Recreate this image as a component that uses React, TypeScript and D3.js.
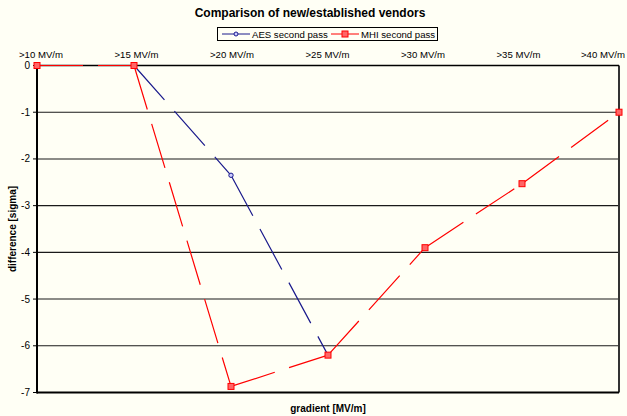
import React from "react";
import * as d3 from "d3";

const categories = [">10 MV/m", ">15 MV/m", ">20 MV/m", ">25 MV/m", ">30 MV/m", ">35 MV/m", ">40 MV/m"];
const aesValues: (number | null)[] = [0, 0, -2.35, -6.2, null, null, null];
const mhiValues: (number | null)[] = [0, 0, -6.87, -6.2, -3.9, -2.53, -1.0];
const yTicks = [0, -1, -2, -3, -4, -5, -6, -7];
const seriesNames = ["AES second pass", "MHI second pass"];

const W = 627, H = 416;
const BG = "#FFFFF5";
const FONT = "Arial, 'Liberation Sans', sans-serif";

export default function App() {
  const x = d3.scalePoint<string>().domain(categories).range([37, 619]);
  const xLabel = d3.scalePoint<string>().domain(categories).range([41, 614]);
  const y = d3.scaleLinear().domain([-7, 0]).range([392.5, 65.5]);

  const segs = (vals: (number | null)[]) => {
    const out: { x1: number; y1: number; x2: number; y2: number }[] = [];
    for (let i = 0; i < vals.length - 1; i++) {
      const a = vals[i], b = vals[i + 1];
      if (a == null || b == null) continue;
      out.push({ x1: x(categories[i])!, y1: y(a), x2: x(categories[i + 1])!, y2: y(b) });
    }
    return out;
  };

  const aesSegs = segs(aesValues);
  const mhiSegs = segs(mhiValues);
  const blue = "#1a1a8c";
  const red = "#ff0000";
  const dash = "46,15";

  return (
    <svg width={W} height={H} style={{ position: "absolute", left: 0, top: 0, background: BG }}>
      <rect x={0} y={0} width={W} height={H} fill={BG} />
      {/* title */}
      <text x={310} y={17} textAnchor="middle" fontFamily={FONT} fontWeight="bold" fontSize={12} fill="#000">
        Comparison of new/established vendors
      </text>
      {/* legend */}
      <rect x={217.5} y={27.5} width={220} height={13} fill={BG} stroke="#000" strokeWidth={1} />
      <line x1={222} x2={250} y1={34} y2={34} stroke={blue} strokeWidth={1} />
      <circle cx={236} cy={34} r={2} fill="#ccccff" stroke={blue} strokeWidth={1} />
      <text x={252} y={37.5} fontFamily={FONT} fontSize={9.6} fill="#000">{seriesNames[0]}</text>
      <line x1={331} x2={359} y1={34} y2={34} stroke={red} strokeWidth={1} />
      <rect x={342} y={31} width={6} height={6} fill="#ff6666" stroke={red} strokeWidth={1} />
      <text x={361} y={37.5} fontFamily={FONT} fontSize={9.6} fill="#000">{seriesNames[1]}</text>

      {/* gridlines */}
      {yTicks.filter(t => t !== 0 && t !== -7).map(t => (
        <line key={t} x1={37} x2={619} y1={y(t)} y2={y(t)} stroke="#1a1a1a" strokeWidth={1.1} />
      ))}
      {/* plot border */}
      <line x1={619} x2={619} y1={y(0)} y2={y(-7)} stroke="#333" strokeWidth={2} />
      <line x1={37} x2={619} y1={y(-7)} y2={y(-7)} stroke="#000" strokeWidth={2} />
      <line x1={37} x2={619} y1={y(0)} y2={y(0)} stroke="#000" strokeWidth={1.5} />
      <line x1={37} x2={37} y1={y(0)} y2={y(-7) + 1} stroke="#000" strokeWidth={2} />
      {/* y ticks */}
      {yTicks.map(t => (
        <g key={t}>
          <line x1={33} x2={37} y1={y(t)} y2={y(t)} stroke="#000" strokeWidth={1} />
          <text x={30} y={y(t) + 3.5} textAnchor="end" fontFamily={FONT} fontSize={10} fill="#000">{t}</text>
        </g>
      ))}
      {/* category labels on top */}
      {categories.map((c, i) => {
        const last = i === categories.length - 1;
        return (
          <text key={c} x={last ? 625 : xLabel(c)!} y={58} textAnchor={last ? "end" : "middle"} fontFamily={FONT} fontSize={9.6} fill="#000">{c}</text>
        );
      })}
      {/* axis titles */}
      <text x={328} y={412} textAnchor="middle" fontFamily={FONT} fontWeight="bold" fontSize={10} fill="#000">gradient [MV/m]</text>
      <text transform={`translate(16,${(y(0) + y(-7)) / 2}) rotate(-90)`} textAnchor="middle" fontFamily={FONT} fontWeight="bold" fontSize={10} fill="#000">difference [sigma]</text>

      {/* AES series */}
      {aesSegs.map((s, i) => (
        <line key={"a" + i} {...s} stroke={blue} strokeWidth={1.2} strokeDasharray={dash} />
      ))}
      {aesValues.map((v, i) => v == null ? null : (
        <circle key={"ac" + i} cx={x(categories[i])!} cy={y(v)} r={2.2} fill="#ccccff" stroke={blue} strokeWidth={1} />
      ))}
      {/* MHI series */}
      {mhiSegs.map((s, i) => (
        <line key={"m" + i} {...s} stroke={red} strokeWidth={1.2} strokeDasharray={dash} />
      ))}
      {mhiValues.map((v, i) => v == null ? null : (
        <rect key={"mr" + i} x={x(categories[i])! - 3} y={y(v) - 3} width={6} height={6} fill="#ff6666" stroke={red} strokeWidth={1} />
      ))}
    </svg>
  );
}
